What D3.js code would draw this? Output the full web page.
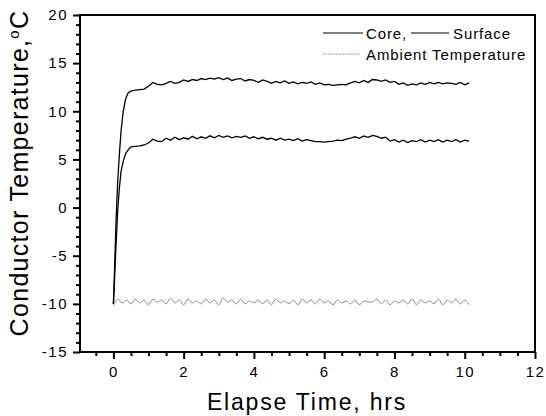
<!DOCTYPE html>
<html><head><meta charset="utf-8">
<script src="https://cdn.jsdelivr.net/npm/d3@7"></script>
<style>body{margin:0;background:#fff}svg{display:block}text{font-family:"Liberation Sans",Arial,sans-serif;fill:#000}</style>
</head><body><svg id="c" width="546" height="416"></svg>
<script>
// ---- data ----
const time = [0,0.02,0.05,0.08,0.12,0.17,0.22,0.28,0.35,0.42,0.5,
 0.625,0.75,0.875,1.0,1.125,1.25,1.375,1.5,1.625,1.75,1.875,2.0,
 2.125,2.25,2.375,2.5,2.625,2.75,2.875,3.0,3.125,3.25,3.375,3.5,
 3.625,3.75,3.875,4.0,4.125,4.25,4.375,4.5,4.625,4.75,4.875,5.0,
 5.125,5.25,5.375,5.5,5.625,5.75,5.875,6.0,6.125,6.25,6.375,6.5,
 6.625,6.75,6.875,7.0,7.125,7.25,7.375,7.5,7.625,7.75,7.875,8.0,
 8.125,8.25,8.375,8.5,8.625,8.75,8.875,9.0,9.125,9.25,9.375,9.5,
 9.625,9.75,9.875,10.0,10.125];
const core = [-10,-8,-4.5,-1,2.5,5.5,8,10,11.3,11.9,12.1,
 12.2,12.25,12.3,12.6,13.0,12.8,12.75,12.9,13.1,12.9,13.0,13.25,
 13.1,13.3,13.2,13.4,13.3,13.45,13.35,13.5,13.3,13.45,13.2,13.35,
 13.4,13.15,13.3,13.2,13.0,13.25,13.1,12.9,13.1,12.95,13.15,12.9,
 13.05,12.85,13.0,12.9,13.05,12.8,12.95,12.75,12.8,12.7,12.75,12.8,
 12.75,12.95,13.1,12.95,13.2,13.0,13.3,13.25,13.1,13.25,13.0,13.1,
 12.8,12.95,12.7,12.85,12.75,12.95,12.8,13.0,12.85,13.0,12.85,12.95,
 12.9,12.8,13.0,12.75,12.95];
const surface = [-10,-8.5,-6,-3.5,-0.5,2,3.8,4.8,5.6,6.0,6.3,
 6.35,6.4,6.5,6.7,7.1,6.9,6.85,7.2,7.0,7.3,7.05,7.25,
 7.1,7.4,7.15,7.35,7.2,7.45,7.25,7.5,7.3,7.45,7.25,7.4,
 7.3,7.45,7.2,7.35,7.15,7.3,7.1,7.2,7.0,7.2,7.0,7.1,
 6.95,7.15,6.9,7.05,6.95,6.85,6.85,6.8,6.85,6.9,7.0,6.95,
 7.1,7.2,7.35,7.2,7.45,7.3,7.5,7.4,7.2,7.3,6.9,7.05,
 6.8,7.0,6.75,6.95,6.85,7.05,6.8,7.0,6.85,7.05,6.8,7.0,
 6.85,7.05,6.8,7.0,6.9];
const ambTime = [0,0.125,0.25,0.375,0.5,0.625,0.75,0.875,1.0,1.125,1.25,1.375,1.5,1.625,1.75,1.875,
 2.0,2.125,2.25,2.375,2.5,2.625,2.75,2.875,3.0,3.125,3.25,3.375,3.5,3.625,3.75,3.875,
 4.0,4.125,4.25,4.375,4.5,4.625,4.75,4.875,5.0,5.125,5.25,5.375,5.5,5.625,5.75,5.875,
 6.0,6.125,6.25,6.375,6.5,6.625,6.75,6.875,7.0,7.125,7.25,7.375,7.5,7.625,7.75,7.875,
 8.0,8.125,8.25,8.375,8.5,8.625,8.75,8.875,9.0,9.125,9.25,9.375,9.5,9.625,9.75,9.875,
 10.0,10.125];
const ambient = [-10.2,-9.5,-9.9,-9.6,-10.0,-9.5,-9.9,-9.6,-10.1,-9.5,-9.8,-9.6,-10.0,-9.4,-9.9,-9.6,
 -10.1,-9.5,-9.9,-9.7,-10.0,-9.5,-9.9,-9.6,-10.1,-9.4,-9.8,-9.6,-10.0,-9.5,-10.0,-9.7,
 -9.9,-9.6,-10.0,-9.6,-10.1,-9.5,-9.9,-9.7,-10.0,-9.6,-10.1,-9.5,-9.9,-9.6,-10.0,-9.5,
 -9.9,-9.7,-10.1,-9.6,-9.9,-9.7,-10.0,-9.6,-10.1,-9.7,-9.8,-9.8,-9.5,-10.0,-9.6,-10.1,
 -9.7,-9.9,-9.6,-10.0,-9.5,-10.1,-9.6,-9.9,-9.7,-10.0,-9.5,-10.1,-9.6,-9.9,-9.5,-10.0,
 -9.6,-10.1];
const xTicks = [0,2,4,6,8,10,12];
const yTicks = [-15,-10,-5,0,5,10,15,20];
const seriesNames = ["Core,","Surface","Ambient Temperature"];
const xTitle = "Elapse Time, hrs";

// ---- chart ----
const svg = d3.select("#c");
const L=80, R=535, T=15, B=352;
const x = d3.scaleLinear().domain([-0.95,12]).range([L,R]);
const y = d3.scaleLinear().domain([-15,20]).range([B,T]);
const fmt = d => String(d);

const line = (xs,ys,c)=>d3.line().curve(c||d3.curveLinear).x((d,i)=>x(xs[i])).y((d,i)=>y(ys[i]))(ys);
svg.append("path").attr("d",line(ambTime,ambient,d3.curveCatmullRom)).attr("fill","none")
  .attr("stroke","#8c8c8c").attr("stroke-width",1);
svg.append("path").attr("d",line(time,surface)).attr("fill","none")
  .attr("stroke","#000").attr("stroke-width",1.3);
svg.append("path").attr("d",line(time,core)).attr("fill","none")
  .attr("stroke","#000").attr("stroke-width",1.3);

// frame
svg.append("rect").attr("x",L).attr("y",T).attr("width",R-L).attr("height",B-T)
  .attr("fill","none").attr("stroke","#000").attr("stroke-width",2);

// x axis
const xa = svg.append("g").attr("transform",`translate(0,${B})`)
  .call(d3.axisBottom(x).tickValues(xTicks).tickSize(7).tickFormat(fmt));
const xMinor = d3.range(-0.5,12,0.5).filter(v=>v%2!==0);
svg.append("g").attr("transform",`translate(0,${B})`)
  .call(d3.axisBottom(x).tickValues(xMinor).tickSize(4).tickFormat(""));
// y axis
const ya = svg.append("g").attr("transform",`translate(${L},0)`)
  .call(d3.axisLeft(y).tickValues(yTicks).tickSize(7).tickFormat(fmt));
const yMinor = d3.range(-14,20,1).filter(v=>v%5!==0);
svg.append("g").attr("transform",`translate(${L},0)`)
  .call(d3.axisLeft(y).tickValues(yMinor).tickSize(4).tickFormat(""));
svg.selectAll(".domain").remove();
svg.selectAll(".tick line").attr("stroke","#000").attr("stroke-width",2);
svg.selectAll(".tick text").style("font-size","15px").style("letter-spacing","1.5px")
  .style("font-family","'Liberation Sans',Arial,sans-serif");
xa.selectAll(".tick text").attr("dy","0.71em").attr("y",14);
ya.selectAll(".tick text").attr("x",-12);

// titles
svg.append("text").attr("x",307).attr("y",410).attr("text-anchor","middle")
  .style("font-size","23px").style("letter-spacing","1.8px").text(xTitle);
const yt = svg.append("text").attr("transform","translate(28,173) rotate(-90)")
  .attr("text-anchor","middle").style("font-size","25px").style("letter-spacing","1.3px");
yt.append("tspan").text("Conductor Temperature,");
yt.append("tspan").attr("dy","-9").style("font-size","15px").text("o");
yt.append("tspan").attr("dy","9").text("C");

// legend
const lg = svg.append("g");
lg.append("line").attr("x1",323).attr("x2",363).attr("y1",33).attr("y2",33).attr("stroke","#000").attr("stroke-width",1.2);
lg.append("text").attr("x",366).attr("y",38.5).style("font-size","15px").style("letter-spacing","0.9px").text(seriesNames[0]);
lg.append("line").attr("x1",411).attr("x2",449).attr("y1",33).attr("y2",33).attr("stroke","#000").attr("stroke-width",1.2);
lg.append("text").attr("x",453).attr("y",38.5).style("font-size","15px").style("letter-spacing","0.9px").text(seriesNames[1]);
lg.append("line").attr("x1",323).attr("x2",360).attr("y1",54).attr("y2",54).attr("stroke","#8c8c8c").attr("stroke-width",1).attr("stroke-dasharray","1.5,1");
lg.append("text").attr("x",366).attr("y",59.5).style("font-size","15px").style("letter-spacing","0.9px").text(seriesNames[2]);
</script></body></html>
